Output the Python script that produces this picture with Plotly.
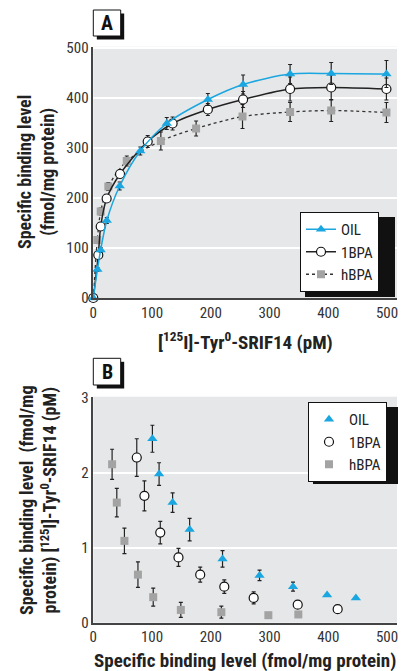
import plotly.graph_objects as go

# ---------------- data ----------------
# Panel A: saturation binding
a_oil_x = [0, 7, 12.5, 23, 45, 80, 125, 195, 255, 335, 405, 499]
a_oil_y = [0, 57, 96, 155, 224, 294, 349, 397, 427, 448, 449, 448]
a_oil_e = [0, 4, 5, 6, 8, 8, 12, 12, 19, 19, 22, 27]

a_bpa1_x = [0, 8.5, 12.6, 22.7, 45.5, 92.6, 135, 195, 255, 335, 405, 499]
a_bpa1_y = [0, 86, 143, 199, 248, 313, 349, 377, 397, 418, 421, 418]
a_bpa1_e = [0, 5, 6, 6, 8, 12, 13, 12, 16, 24, 25, 22]

a_bpah_x = [0, 6.8, 12.6, 25.6, 57, 115, 175, 254, 335, 405, 499]
a_bpah_y = [0, 116, 173, 223, 274, 314, 339, 363, 372, 375, 371]
a_bpah_e = [0, 6, 7, 8, 10, 18, 15, 24, 19, 22, 20]

# Panel B: Scatchard plot
b_oil_x = [100.6, 112, 135, 164, 220, 283, 340, 398, 447]
b_oil_y = [2.45, 1.98, 1.60, 1.24, 0.85, 0.63, 0.48, 0.37, 0.33]
b_oil_e = [0.18, 0.15, 0.13, 0.15, 0.11, 0.07, 0.06, 0, 0]

b_bpa1_x = [74, 87, 114, 145, 182, 223, 273, 348, 416]
b_bpa1_y = [2.20, 1.69, 1.20, 0.87, 0.64, 0.48, 0.33, 0.24, 0.18]
b_bpa1_e = [0.25, 0.20, 0.15, 0.12, 0.10, 0.09, 0.08, 0, 0]

b_bpah_x = [32, 40, 53, 76, 102, 149, 218, 298, 349]
b_bpah_y = [2.11, 1.60, 1.09, 0.64, 0.34, 0.17, 0.14, 0.10, 0.11]
b_bpah_e = [0.20, 0.19, 0.17, 0.17, 0.12, 0.10, 0.08, 0, 0]

x_ticks = [0, 100, 200, 300, 400, 500]
a_y_ticks = [0, 100, 200, 300, 400, 500]
b_y_ticks = [0, 1, 2, 3]

# ---------------- style ----------------
W, H = 406, 671
FONT = "Liberation Sans Narrow, Roboto Condensed, Arial Narrow, Liberation Sans, sans-serif"
CYAN = "#1AA6E0"
GREY = "#A3A3A3"
BG = "#E6E7E8"
ERR = "#222222"


def px(x):
    return x / W


def py(y):
    return 1 - y / H


def err(arr):
    return dict(type="data", array=arr, color=ERR, thickness=1.2, width=2)


fig = go.Figure()

# Panel A traces (draw hBPA first so OIL is on top)
fig.add_trace(go.Scatter(
    x=a_bpah_x, y=a_bpah_y, name="hBPA", mode="lines+markers",
    line=dict(color="#333333", width=1.3, dash="3px,3px", shape="spline", smoothing=0.8),
    marker=dict(symbol="square", size=8, color=GREY),
    error_y=err(a_bpah_e), legend="legend", legendrank=3,
    xaxis="x", yaxis="y", cliponaxis=False))
fig.add_trace(go.Scatter(
    x=a_bpa1_x, y=a_bpa1_y, name="1BPA", mode="lines+markers",
    line=dict(color="#222222", width=1.5, shape="spline", smoothing=0.8),
    marker=dict(symbol="circle", size=9, color="white", line=dict(color="#111111", width=1.2)),
    error_y=err(a_bpa1_e), legend="legend", legendrank=2,
    xaxis="x", yaxis="y", cliponaxis=False))
fig.add_trace(go.Scatter(
    x=a_oil_x, y=a_oil_y, name="OIL", mode="lines+markers",
    line=dict(color=CYAN, width=1.5, shape="spline", smoothing=0.8),
    marker=dict(symbol="triangle-up", size=9, color=CYAN),
    error_y=err(a_oil_e), legend="legend", legendrank=1,
    xaxis="x", yaxis="y", cliponaxis=False))

# Panel B traces
fig.add_trace(go.Scatter(
    x=b_bpah_x, y=b_bpah_y, name="hBPA", mode="markers",
    marker=dict(symbol="square", size=8, color=GREY),
    error_y=err(b_bpah_e), legend="legend2", legendrank=3,
    xaxis="x2", yaxis="y2", cliponaxis=False))
fig.add_trace(go.Scatter(
    x=b_bpa1_x, y=b_bpa1_y, name="1BPA", mode="markers",
    marker=dict(symbol="circle", size=9, color="white", line=dict(color="#111111", width=1.2)),
    error_y=err(b_bpa1_e), legend="legend2", legendrank=2,
    xaxis="x2", yaxis="y2", cliponaxis=False))
fig.add_trace(go.Scatter(
    x=b_oil_x, y=b_oil_y, name="OIL", mode="markers",
    marker=dict(symbol="triangle-up", size=9, color=CYAN),
    error_y=err(b_oil_e), legend="legend2", legendrank=1,
    xaxis="x2", yaxis="y2", cliponaxis=False))

tickfont = dict(family=FONT, size=15, color="#333333")
xdom = [px(93.3), px(397)]

axis_common = dict(showline=True, linecolor="#444444", linewidth=1.5, zeroline=False,
                   tickfont=tickfont, ticks="", mirror=False, automargin=False)

LEG_FONT = dict(family=FONT, size=15, color="#222222")
fig.update_layout(
    width=W, height=H,
    margin=dict(l=0, r=0, t=0, b=0, autoexpand=False),
    paper_bgcolor="white",
    plot_bgcolor=BG,
    font=dict(family=FONT, color="#222222"),
    xaxis=dict(domain=xdom, range=[0, 517], tickvals=x_ticks, showgrid=False,
               anchor="y", **axis_common),
    yaxis=dict(domain=[py(298), py(46.7)], range=[0, 502.6], tickvals=a_y_ticks,
               showgrid=True, gridcolor="white", gridwidth=1.5, anchor="x", **axis_common),
    xaxis2=dict(domain=xdom, range=[0, 517], tickvals=x_ticks, showgrid=False,
                anchor="y2", **axis_common),
    yaxis2=dict(domain=[py(622.7), py(396.7)], range=[0, 3.01], tickvals=b_y_ticks,
                showgrid=True, gridcolor="white", gridwidth=1.5, anchor="x2", **axis_common),
    legend=dict(x=px(300), y=py(212), xanchor="left", yanchor="top",
                bgcolor="white", bordercolor="#111111", borderwidth=1,
                font=LEG_FONT, tracegroupgap=0, itemwidth=30),
    legend2=dict(x=px(308), y=py(402), xanchor="left", yanchor="top",
                 bgcolor="white", bordercolor="#111111", borderwidth=1,
                 font=LEG_FONT, tracegroupgap=0, itemwidth=30),
    showlegend=True,
)

# legend drop shadows and panel label boxes
shapes = []
for (x0, y0, x1, y1) in [(305, 217, 395, 297), (313, 407, 398, 484)]:
    shapes.append(dict(type="rect", xref="paper", yref="paper",
                       x0=px(x0), x1=px(x1), y0=py(y1), y1=py(y0),
                       fillcolor="#111111", line=dict(width=0), layer="above"))
for (x0, y0, x1, y1) in [(93.3, 10, 120.7, 36), (93.3, 358.3, 120.7, 385)]:
    shapes.append(dict(type="rect", xref="paper", yref="paper",
                       x0=px(x0 + 3.5), x1=px(x1 + 3.5), y0=py(y1 + 3.5), y1=py(y0 + 3.5),
                       fillcolor="#111111", line=dict(width=0), layer="above"))
    shapes.append(dict(type="rect", xref="paper", yref="paper",
                       x0=px(x0), x1=px(x1), y0=py(y1), y1=py(y0),
                       fillcolor="white", line=dict(color="#111111", width=1), layer="above"))
fig.update_layout(shapes=shapes)

xt_font = dict(family=FONT, size=19, color="#222222")
yt_font = dict(family=FONT, size=18, color="#222222")
ann_common = dict(xref="paper", yref="paper", showarrow=False,
                  xanchor="center", yanchor="middle")
annotations = [
    dict(text="<b>A</b>", x=px(107), y=py(23),
         font=dict(family=FONT, size=20, color="#111111"), **ann_common),
    dict(text="<b>B</b>", x=px(107), y=py(371.5),
         font=dict(family=FONT, size=20, color="#111111"), **ann_common),
    dict(text="<b>[<sup>125</sup>I]-Tyr<sup>0</sup>-SRIF14 (pM)</b>", x=px(245), y=py(341),
         font=xt_font, **ann_common),
    dict(text="<b>Specific binding level<br>(fmol/mg protein)</b>", x=px(37), y=py(172),
         textangle=-90, font=yt_font, **ann_common),
    dict(text="<b>Specific binding level  (fmol/mg<br>protein) [<sup>125</sup>I]-Tyr<sup>0</sup>-SRIF14 (pM)</b>",
         x=px(38), y=py(500), textangle=-90, font=yt_font, **ann_common),
    dict(text="<b>Specific binding level (fmol/mg protein)</b>", x=px(245), y=py(660),
         font=xt_font, **ann_common),
]
fig.update_layout(annotations=annotations)

fig.write_html("out.html", config={"displayModeBar": False},
               post_script="document.body.style.margin='0px';")
